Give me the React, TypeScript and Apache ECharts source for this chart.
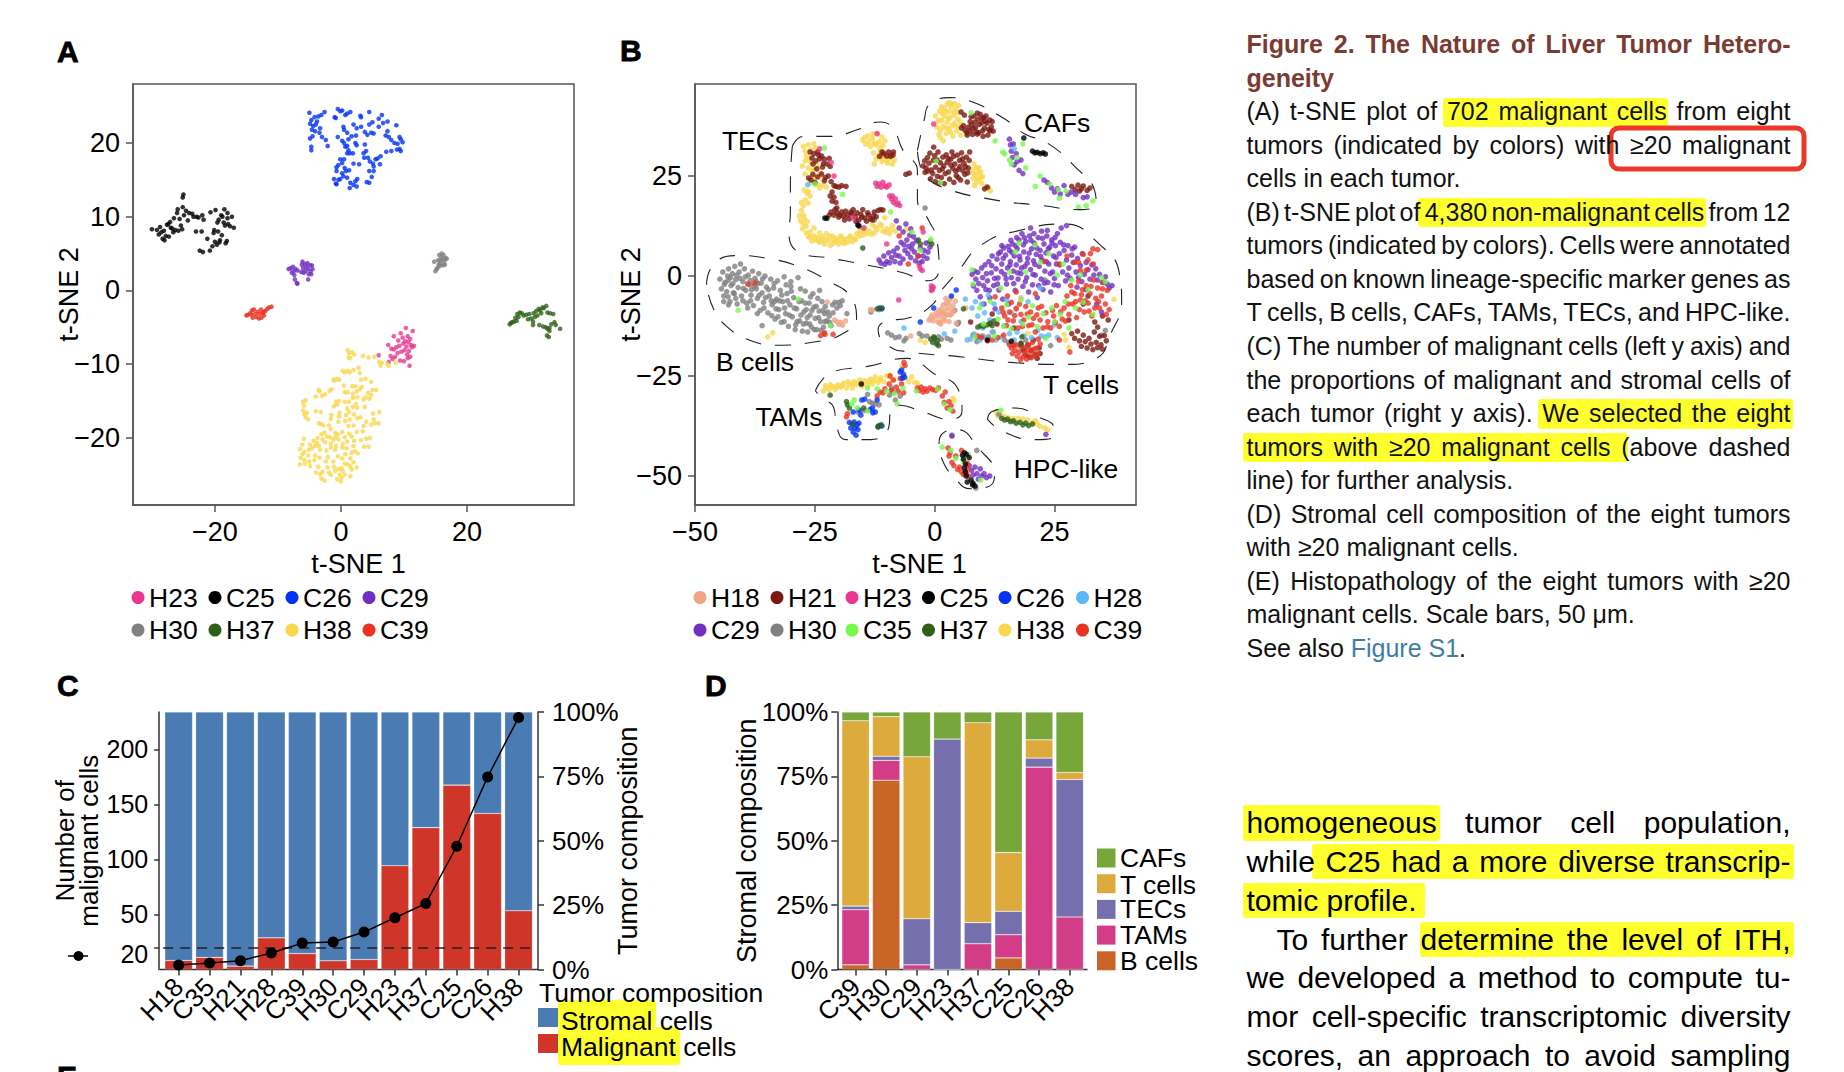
import React, { useEffect, useRef } from "react";
import * as echarts from "echarts";

const FONT = '"Liberation Sans", Arial, Helvetica, sans-serif';

const COLORS: Record<string, string> = {
  H18: "#F0A585", H21: "#7C1810", H23: "#E8388F", C25: "#000000", C26: "#0433F5", H28: "#5BB8F8",
  C29: "#7030C0", H30: "#808080", C35: "#75F94D", H37: "#2D6118", H38: "#F9D74F", C39: "#EA3323",
};

// Panel A, t-SNE coordinates
const aH23 = [6,-8.8,7.5,-7.4,7.6,-9.7,7.9,-8.9,8,-7.9,8.2,-9.3,8.4,-8,8.4,-6.2,8.6,-9,8.8,-7.7,9,-8.5,9.1,-6.8,9.3,-7.5,9.4,-9.5,9.5,-5.8,9.6,-8.3,9.8,-6.4,9.9,-7.2,10,-9.6,10.1,-8.1,10.2,-6.9,10.3,-5.1,10.4,-7.6,10.5,-8.7,10.6,-9.2,10.6,-6.2,10.7,-7,10.8,-8.2,10.9,-10.2,11,-9,11.1,-7.4,11.3,-7.7,11.4,-5.5,11.6,-7.5,11,-6.6];
const aC25 = [-30,8.3,-29.2,8.2,-28.9,7.6,-28.7,8.6,-28.5,7.9,-28.3,7,-28,6.8,-27.8,7.4,-27.6,8.9,-27.4,9,-27.3,7.3,-27.1,9.3,-27,8.5,-26.8,8.4,-26.5,9.8,-26.3,8.2,-26,10.5,-25.9,11,-25.6,9.7,-25.4,8.8,-25.2,8.3,-25.1,11.3,-25,13,-25.1,12.6,-24.9,10.2,-24.6,10.8,-24.3,9.5,-24.1,10.5,-23.6,10.4,-23.4,10,-23,8,-22.9,10,-22.6,9.9,-22.4,5.4,-22.1,8,-22,10.2,-21.9,5.2,-21.8,9.6,-21.2,7,-20.8,5.4,-20.7,10.6,-20.4,6,-20.1,8.2,-20,6.6,-19.9,10.9,-19.7,6.2,-19.5,8,-19.4,9.6,-19.3,6.5,-19,10.2,-18.9,7.5,-18.8,10,-18.6,9.2,-18.5,11,-18.3,6.4,-18,9.8,-17.9,9,-17.6,8.7,-17.3,10,-17,8.5,-18,10.5,-19.6,9.2,-18.4,8.8,-18.1,6.7,-19.2,6.8,-20.2,7.8,-28.1,8.1,-26.6,7.9,-25.8,8.1];
const aC26 = [-5,24.1,-4.9,22.6,-4.7,23.1,-4.6,21.8,-4.9,20.6,-4.5,20.9,-4.4,22.3,-4.2,23.5,-4.1,21.6,-4,22.5,-3.8,22.9,-3.6,23.6,-3.4,21.4,-3.3,22,-3.1,23.8,-3,20.8,-2.6,24.2,-2.4,20.4,-4.7,19.5,-4.7,19,-2.1,19.6,-1,23.5,-0.8,23.4,-0.5,24.6,-0.1,24.3,0.2,24.4,0.7,23.8,1,24,1.5,24.2,3.1,23.7,3.2,23.5,4.5,24.2,0.4,22.2,0.5,21.8,2.5,22,3.2,22.2,3.8,21.5,4.2,21.1,4.5,22.5,5,22.8,4.8,21.4,5.2,21.3,6,22.2,6,23.3,6.5,23.8,6.7,22.7,7.4,22.9,7.4,21.6,8.8,22.4,7.1,21,7.6,20.8,8,20.4,8.5,20,9,19.9,9.5,20.5,9.3,20.8,9.8,20.1,9.3,19.2,9.5,18.9,8.9,19.1,8,18.9,7.2,18.8,-0.5,20.8,0.2,20.3,0.5,20,0.7,19.5,1,19.6,1.2,20.5,1.7,20.9,2.4,21,2.3,20,2.5,19.7,1.2,19,1,18.6,1.4,18.6,1.9,18.6,3.8,19.8,4,18.9,3.6,18.6,3.7,18,4.3,18,4.6,17.5,5.1,17.2,5.5,17.8,5.8,17.9,6.3,18.2,6.2,17.1,5.2,16.8,5.2,16.2,-0.7,16.7,-0.4,17,-0.1,17.8,0.2,17.3,0.5,17.8,-0.7,16.2,0.2,15.9,0.6,16.6,0.8,16.2,1.3,16.3,2,17.2,2.9,17.1,-1.1,15.1,-0.7,14.4,-0.4,15,-0.1,15.1,0.4,15.5,1,15.3,-0.8,14.5,1.5,14.6,2.3,14.8,2.6,15.1,1.4,13.9,2,14.3,2.5,14.1,4.1,14.7,4.5,14.6,4.5,16.2,4.9,15.4,2,22.5,1,21.4];
const aC29 = [-8.3,2.9,-8,3,-7.8,2.4,-7.6,3.2,-7.5,2.6,-7.4,2.1,-7.3,1.5,-7.2,2.9,-6.9,2.7,-7,1,-6.9,0.9,-6.3,2.5,-6.2,3.5,-6.1,3.9,-6,3,-5.9,2.4,-5.7,3.6,-5.6,2.6,-5.5,3.2,-5.3,3.7,-5.2,1.5,-5.2,2.9,-5.1,2.2,-4.9,3.4,-4.8,2.6,-4.6,3.4,-4.5,2.9,-4.7,2.2];
const aH30 = [14.8,3.9,15,2.6,15.2,2.9,15.3,3,15.4,4.1,15.5,3.5,15.6,4.8,15.7,4,15.8,3.6,15.9,4.5,16,5,16.1,4.2,16.2,3.4,16.3,4.8,16.4,3.9,16.6,4.4,16.8,4.3,16.5,3.5,15.7,3.3];
const aH37 = [26.8,-4.6,27,-4.4,27.2,-4.3,27.5,-4.2,27.7,-3.7,27.9,-4.1,28,-3.2,28.2,-3.6,28.4,-3,28.7,-3.1,29,-3.4,29.4,-3.3,29.7,-3.9,29.9,-3.2,30.2,-3.8,30.5,-4.2,30.6,-3.1,30.8,-3.6,31,-2.8,31.2,-3.4,31.4,-2.5,31.6,-2.7,31.8,-3.1,32,-2.3,32.2,-2.4,32.6,-2.1,32.8,-3,30.5,-4.7,31.5,-4.7,32.1,-4.9,32.5,-5,32.8,-5.2,33.1,-5.5,32.7,-6.1,33.2,-3.1,33.7,-3.2,33.9,-4.3,34.1,-4.7,33.4,-4.6,33.1,-5.1,34.8,-5.2,33,-6.3];
const aH38 = [1.1,-8.1,1.3,-8.5,1.5,-9.2,1.8,-8.4,2.1,-8.7,1.2,-9.1,3.5,-8.9,4.4,-9.1,5.3,-9,6.1,-9.7,6.5,-9.8,6.3,-10.2,7.4,-10,7.6,-10.2,8.7,-9.8,0.3,-10.9,0.6,-11.1,1.1,-10.9,1.4,-11.1,2,-10.8,2.8,-10.5,3,-11.2,-1.2,-12.1,-1,-12.2,-0.6,-12,-0.3,-12.1,3.2,-12.1,3.9,-12,4.8,-12.4,0.5,-12.9,1.8,-13,2.3,-13,3.3,-13.1,-3.5,-13.5,-3.4,-13.7,-1.8,-13.6,-1.5,-13.4,0.6,-13.8,1.1,-13.8,1.9,-14,2.5,-13.7,3,-13.4,4.3,-13.9,5,-13.5,5.6,-13.5,-4,-14.4,-3,-14.3,-2.5,-14.1,1.9,-14.6,2.6,-14.5,3.9,-14.5,4.5,-14.7,4.8,-14.2,-6,-15.1,-5.6,-14.9,-0.8,-15.1,-0.3,-15,0.6,-15.1,1.3,-15.1,2.4,-15.4,3.6,-14.8,-5.9,-15.6,-1.1,-15.7,-0.6,-15.5,1,-16,1.9,-15.8,2.6,-15.9,3.8,-15.8,-6,-16.3,-5.8,-16.8,-5.4,-16.6,-4,-16.4,-3.2,-16.5,-1.5,-16.9,-0.2,-16.6,0.8,-16.9,1.3,-16.5,2.1,-16.8,3.1,-17.2,5.1,-16.7,6.1,-16.5,-5.6,-17.2,-5.2,-17.5,-1.6,-17.4,-0.3,-17.1,0.7,-17.7,1.4,-17.5,2.6,-17.3,4,-17.8,5.2,-17.5,-3.5,-18,-3.2,-18.1,-2.8,-18.3,-1.9,-18.3,-0.4,-17.8,1.2,-18.4,2,-18.3,3.6,-18.4,4.8,-18.2,5.4,-18,6,-18,-2.6,-19.3,-3.1,-19.5,-1.6,-18.8,-0.9,-19.3,-0.5,-19.5,0.2,-19.2,1.3,-19.4,2.5,-19.2,3.5,-19.1,-3.7,-20,-2.9,-20.2,-2.2,-19.8,-1.7,-19.9,-0.9,-19.9,-0.4,-20.2,0.6,-19.9,1.7,-19.8,3.2,-20.3,4,-20.1,-5.9,-20.1,-4.3,-20.4,-3.8,-20.7,-2.5,-20.6,-1.6,-20.8,-1.2,-20.3,0.3,-20.8,1,-20.5,2.1,-20.4,4.6,-20,-6.1,-20.9,-4.9,-20.9,-4.1,-21.1,-3.5,-21.1,-1.6,-21.3,-0.9,-21.6,0.2,-21.3,0.9,-21.4,2,-21.1,3.7,-21.2,4.4,-21.2,-6.5,-21.5,-5.8,-21.9,-5.1,-21.6,-4.6,-21.4,-3.3,-21.6,-2.3,-21.7,-0.8,-21.1,0.7,-22.2,1.7,-22,2.2,-21.8,2.7,-22.1,-6.1,-22.2,-5.2,-22.4,-4.1,-22.4,-3.4,-22.7,-2.1,-22.6,-0.5,-22.5,0.2,-22.8,1.5,-22.8,-6.4,-22.7,-5.8,-23,-5,-23.2,-4.2,-23,-2.4,-23.2,-1.2,-23.2,0.6,-23.5,2,-23.3,-6.5,-23.6,-5.7,-23.5,-4.9,-23.8,-3.6,-23.9,-2.1,-24,-1.1,-23.9,0.1,-24.1,1.5,-23.9,1.1,-23.6,-1.9,-24.7,-0.9,-24.5,-0.4,-24.2,0.3,-24.5,1.7,-24.3,2.5,-24,-4,-24.7,-3.3,-24.9,-2.9,-24.6,-1.6,-25,-0.2,-25,0.6,-25,1.5,-25.2,-3.1,-25.5,-2.6,-25.8,-0.6,-25.6,0,-25.9,0.1,-25.4];
const aC39 = [-15,-3.4,-14.8,-3.3,-14.4,-3.1,-14.2,-3.3,-14.1,-2.7,-14,-3.7,-13.8,-2.6,-13.6,-3.2,-13.4,-3.6,-13.2,-2.9,-13,-3.8,-12.9,-3.2,-12.7,-2.6,-12.6,-3.7,-12.4,-3.1,-12.2,-3.4,-12,-2.8,-11.7,-2.5,-11.4,-2.3,-11,-2.2,-12.3,-2.9];

const aOrder: [string, number[]][] = [["H23", aH23], ["C25", aC25], ["C26", aC26], ["C29", aC29], ["H30", aH30], ["H37", aH37], ["H38", aH38], ["C39", aC39]];

// Panel B
const bH18 = [-1.2,-11,-0.8,-10.5,-0.4,-11.2,0,-10.2,0.3,-9.2,0.6,-11.4,0.8,-10,1.1,-9.4,1.3,-12,1.4,-8.2,1.6,-10.8,1.8,-7.2,2,-9.1,2.1,-11.2,2.3,-5.6,2.4,-6.8,2.5,-8.2,2.7,-9.6,2.9,-7.1,3,-11.4,3.1,-6.1,3.3,-8.4,3.4,-5.3,3.6,-9.4,3.8,-7.4,4,-8.8,4.3,-6.3,4.5,-11.8,-20.9,-11,-20.4,-11.4,-20,-12.1,-19.6,-11.6,-19.2,-12.3,-18.6,-11.2,-13.4,-8.4,-13,-8.5,-22.4,-6.5,-5,-15,6.5,-8,17,-8,18,-5.5,0.9,-8.6,1.7,-9.5,2.2,-10,3.2,-9.8,-0.6,-9.8,1,-11.7];
const bH21 = [5.6,37,6,37.6,6.3,36.5,6.7,35.8,7,37.2,7.3,36.3,7.6,39.8,7.7,37.8,8,36.8,8.2,40,8.4,38.5,8.7,36.1,8.9,35.5,9,39.2,9.3,37.9,9.5,40.4,9.8,38.3,10,36.3,10.2,39.6,10.4,37,10.7,40,10.9,38.2,11.1,35.2,11.3,36.6,11.5,39,11.8,37.3,12,38.6,12.2,36.2,5.5,41,6.2,40.2,-2.4,27.5,-2.1,28.8,-1.8,27,-1.5,29.6,-1.2,28.2,-1,30.7,-0.7,26.5,-0.3,28.9,0,30.1,0.2,27.2,0.5,29,0.7,31,1,26.4,1.2,28.3,1.4,24.6,1.7,29.7,1.9,27.5,2.2,25.6,2.4,30.3,2.6,28.4,2.9,26,3.1,24.2,3.3,29.1,3.6,31,3.8,26.9,4,23.4,4.2,28,4.5,25.1,4.7,30.2,5,26.7,5.2,28.9,5.4,24,5.6,30.8,5.9,26.3,6.1,28.2,6.3,25.4,6.6,29.7,6.8,23.5,7,27,7.3,31,-0.2,32.2,0.6,24.9,10.4,21.8,11,22.2,28.6,22.4,29.3,21.6,29.9,22.7,30.6,21.8,31,22.5,31.8,21.4,32.4,22,30.2,21.2,-26,31,-25.6,29.5,-25.2,30.6,-24.8,28.8,-24.4,31,-24,29.3,-23.6,30,-23.2,28.1,-23,29.2,-22.4,28,-22,29.4,-21.8,27.4,-26.3,24.5,-25.8,24,-25.4,25.4,-25,23.4,-24.4,24.8,-23.6,25.5,-23,23.8,-22.2,25,-21.6,23.6,-21,22.6,-20.6,22.4,-20,22.2,-19.4,22.6,-18.5,22.4,-21.4,21,-21.8,20,-21,19.7,-21.4,18.7,-20.6,18.4,-20.4,17,-22,15.2,-21.6,16,-21,15.2,-20.4,15.8,-20,14.7,-19.4,16,-19,15,-18.6,16.2,-18.2,15.2,-17.8,14.3,-17.3,15.6,-17,16.6,-16.6,14.8,-16.2,15.8,-15.8,14,-15.4,15.4,-15,16.6,-14.6,14.5,-14.2,13.7,-13.8,15.3,-13.4,14.3,-13,14,-12.6,16,-12.2,14.8,-11.8,16.4,-11.3,16.6,-10.8,16.5,-11,31,-10.6,30.6,-10,30,-9.6,31,-9.2,29.9,-8.7,30.2,-8.6,31,-11.5,29.9,-6,25.4,-5.3,25.7,28.6,-14.4,29.2,-15.6,29.8,-13.8,30.2,-16.2,30.6,-17.6,31,-14.8,31.4,-16.4,31.8,-18,32.2,-15.6,32.6,-17,33,-18.4,33.3,-14,33.7,-16.6,34,-17.9,34.4,-15.1,34.7,-17.2,35,-18.3,35.4,-14.9,35.8,-16.2,33.4,-11.5,34,-12.8,36.2,-11,18,-16.8,18.6,-18.4,19,-19.8,19.4,-17.2,19.8,-20.3,20.2,-18.6,20.6,-16,21,-19.6,21.4,-20.6,21.8,-18,22,-19.4,16.5,-13,31,-7,32,-5,35,-10,28,-11,13,-12,12,-9.5,7.5,-11.5,
  -2,25.9,-1.4,26.2,-0.9,24.3,-0.4,25.6,0.1,23.6,0.9,23.2,1.6,26.8,2,23.1,2.8,29.4,3.4,27.7,3.9,29.9,4.4,26.2,4.9,24.6,5.3,27.4,5.8,29.3,6.4,27.3,6.9,25.8,7.2,28.9,6.8,35.2,7.9,35.4,8.5,37.2,9.2,35.8,10.1,34.9,10.6,38.7,11.6,36.3,7.4,38.6,8.9,40.7,9.9,39.4,-24.6,26.8,-23.4,27.2,-22.8,24.6,-19.8,15.2,-18.8,14,-17.5,16,-16.4,13.6,-15.2,14.7,-14,15.8,-12.8,15,-20.8,16.6,-25.4,28,-24.2,30.2];
const bH23 = [-12.3,23.2,-12,22.4,-11.6,23,-11.2,22.2,-10.8,23.4,-10.4,22.5,-10,22.2,-9.5,22.8,-9.4,20,-9,19.2,-8.8,20,-8.6,18.4,-8.2,19.3,-8,17.9,-7.6,18.2,-7.3,17.6,-0.7,-2.5,-0.5,-3.4,-0.3,-2.8,-0.7,-3.6,-3.2,2.6,-3,1.8,-2.6,1.4,-2.4,11,-24,31.8,-21,25,-21.6,28.4,-17,14.5,-12,35.6,-14.8,12,-10,8,-7.5,-6,-0.2,38];
const bC25 = [20.4,31.2,20.9,30.8,21.4,30.9,22,30.6,22.6,30.8,23.1,30.5,18.6,34.5,-22.9,14.5,-22.5,14.4,-16,12.7,-15.8,12.5,-15.3,-27,5.8,-44.8,6,-45.8,6.2,-44.2,6.4,-47,6.6,-44.6,6.4,-49,6.2,-48,6.6,-50,7.2,-45.4,6.8,-51.5,7.6,-51,7.9,-52.2,8.4,-52.5,8,-51.8,11,-16,16,-16.3];
const bC26 = [-17.8,-36.6,-17.5,-38,-17.2,-37,-17,-39,-16.8,-36.5,-16.6,-38,-16.4,-39.8,-16.2,-37.2,-16,-38.4,-15.8,-36.8,-17,-34,-15.8,-33.5,-15.2,-31,-14.6,-30.8,-13.5,-33.4,-12.9,-34.2,-12.4,-34,-12,-31,-11.8,-37.6,-11,-37.5,-7.2,-24,-6.9,-23.5,-6.5,-24.6,-6.8,-25.6,-6.3,-25.3,-15.4,-34.8,-13,-33,3.5,-5,4.5,-3.5,-11,-8.2,-11.5,-8,-3,-11.5,-0.2,-8];
const bH28 = [6.4,-5.8,6.8,-16,7.5,-15.8,7.8,-8,8.2,-14.5,8.5,-6.4,9,-10,9.4,-16.1,9.8,-7,10,-13,10.4,-9.2,10.8,-15.4,11.2,-4.8,11.5,-11,12,-14,12.4,-7,12.8,-16,13.4,-9,14,-15.2,14.5,-12.4,15,-6,15.6,-14.4,16,-9.2,16.6,-16,17.2,-14,18,-11.4,18.6,-15,19.5,-6.4,20.2,-15.4,21.5,-13.6,22.2,-15,23,-15.2,23.8,-14.8,25,-12.2,25.6,-15.4,-26.5,22.8,-6.4,-13,2,-14.5,4.2,-13.8,22,-3,16.6,31.8];
const bC29 = [7.8,0.4,8.1,-2.5,8.3,1.2,8.6,-0.8,8.8,-3.6,9,0.9,9.2,-1.9,9.5,-5.2,9.8,2,10,-0.4,10.3,-7,10.5,2.8,10.7,-3.4,11,-1.2,11.3,3.6,11.5,-5.5,11.8,0.8,12,5,12.3,-2.4,12.6,-8.2,12.8,1.8,13,4.2,13.2,-0.5,13.4,-3.5,13.7,6,14,3,14.2,-5.8,14.4,7,14.6,0.4,14.8,5.2,15,-2,15.2,2,15.4,-7,15.6,6.4,15.8,3.6,16,-0.4,16.2,8,16.4,1.2,16.6,5,16.8,-3.6,17,2.8,17.2,6.8,17.4,-0.8,17.6,9,17.8,4,18,0.6,18.2,10.6,18.4,-2.6,18.6,6,18.8,2.4,19,8.6,19.2,-0.4,19.4,4.4,19.6,-4,19.8,10,20,1.6,20.2,6.8,20.4,-2.2,20.6,3.8,20.8,8.2,21,0.2,21.2,5.4,21.4,-5.4,21.6,9.6,21.8,2.4,22,6.4,22.2,-0.8,22.4,4,22.6,-3.4,22.8,8,23,1.2,23.2,5.8,23.4,10,23.6,-1.6,23.8,3,24,7.2,24.2,-4,24.4,9,24.6,1,24.8,5,25,-0.6,25.2,7.6,25.4,3,25.6,10.6,25.8,-2.4,26,5.6,26.2,8.4,26.4,12,26.7,1,27,6.4,27.3,-1.2,27.5,4,27.8,7.6,28,2,28.3,-0.6,28.6,5.2,28.9,3.4,29.2,7.2,29.5,1,29.8,4.4,30,-0.4,30.4,2.6,30.8,5.6,31.2,0.4,31.6,3.4,32,1.6,32.4,-0.8,32.8,2.8,33.2,0.2,33.6,1.8,34,-1,34.4,0.4,35,-1.6,35.6,-0.2,36,-2,36.4,-3,37,-2.4,33.8,-7,34.8,-9,-11.6,4,-11.2,3.2,-10.6,5,-10,3.6,-9.6,5.8,-9,4.6,-8.6,6.2,-8.3,3.6,-7.8,7,-7.4,5,-7,8.4,-6.6,4.2,-6.2,6.4,-5.8,9,-5.4,7.4,-5,4.6,-4.6,8,-4.2,6,-3.8,8.8,-3.4,5,-3,7,-2.6,3.6,-2.2,6.4,-1.8,8.2,-1.4,6,-1,7.2,-8,13.8,-7.4,12,-6.6,11,-6,13,-5.2,10.2,-5,11.8,-4.4,9.8,15.6,34.2,15.8,32.8,16,31.2,16.2,29.6,16.4,33,16.6,27.8,17,30.6,17.2,28.6,17.6,26.4,18,29,18.4,25.6,22.8,24,23.5,23.4,24.4,22,25,21,25.6,21.8,26.2,20.5,27,22.6,27.8,20.4,28.5,21,29.4,20.4,31,19.6,31.8,19.8,7.2,-47.4,7.7,-48.6,8,-49.8,8.4,-47.8,8.8,-49.4,9.1,-50.8,9.5,-48.2,9.8,-50,10.3,-49.4,10.8,-50.4,11.5,-50,23.2,-39.6,3.6,-40,14,7.6,20,12,27.5,12.6,
  13.3,5.6,13.9,1.1,14.3,4.4,14.9,-0.7,15.3,7.4,15.7,2.7,16.1,5.9,16.5,-1.9,16.9,7.6,17.3,0.8,17.7,4.9,18.1,2,18.5,7.8,18.9,-1.4,19.3,3.2,19.7,5.7,20.1,8.9,20.5,0.4,20.9,2.9,21.3,7,21.7,-2.4,22.1,4.9,22.5,9.4,22.9,-1.8,23.3,3.6,23.7,6.8,24.1,0.6,24.5,8.2,24.9,-2.2,25.3,4.6,10.2,-2.4,10.8,0.6,11.4,-3.6,11.9,2.6,12.5,-0.6,13.1,-2,15.9,8.9,17.1,9.6,18.7,9.6,20.7,10.6,22.3,11.2,23.5,11.4,25.1,9.6,26.1,2.8,26.9,7.8,27.7,0.2,28.7,6.8,29.7,-2.8,30.7,-1.4,31.5,-3.4,-10.4,2.9,-9.4,3.3,-8.1,5.2,-7.2,3.2,-6.4,7.8,-5.6,5.6,-4.8,6.8,-4,3.8,-3.2,3.2,-2.4,5,-1.6,4.4];
const bH30 = [-44.8,-0.8,-44.5,-3.2,-44.2,1,-44,-5,-43.7,-1.6,-43.4,-3.9,-43.2,0,-43,1.8,-42.7,-6.4,-42.5,-2.4,-42.2,0.6,-42,-4.2,-41.7,2.4,-41.5,-0.9,-41.2,-7,-41,-2.9,-40.8,1,-40.5,3,-40.3,-5,-40,-1.4,-39.7,1.8,-39.4,-3.6,-39.2,-6.8,-38.9,0.2,-38.6,-2.2,-38.3,-4.8,-38,1.2,-37.8,-7.4,-37.5,-0.6,-37.2,-3.2,-37,-5.6,-36.7,0.6,-36.4,-8.6,-36.2,-1.8,-36,-4.2,-35.7,-6.6,-35.4,0,-35.1,-2.8,-34.8,-9.2,-34.5,-5,-34.2,-0.8,-33.9,-7.2,-33.6,-3,-33.3,-10.8,-33,-5.8,-32.8,-1.2,-32.5,-8.4,-32.2,-3.6,-32,-11.6,-31.7,-6.4,-31.4,-0.2,-31.1,-9.4,-30.8,-4.4,-30.5,-12.6,-30.2,-7.2,-30,-1.4,-29.7,-10.2,-29.4,-5.4,-29.1,-13.4,-28.8,-8.2,-28.5,-0.4,-28.2,-11.2,-28,-3.2,-27.8,-6.2,-27.6,-13.8,-27.3,-9,-27,-3.8,-26.8,-11.8,-26.5,-14,-26.2,-6.8,-26,-9.8,-25.7,-12.8,-25.4,-4.4,-25.2,-7.8,-24.9,-10.6,-24.6,-13.4,-24.4,-5.6,-24.1,-8.8,-23.8,-11.4,-23.5,-6.4,-23.2,-12.8,-23,-9.4,-22.8,-7.6,-22.5,-11.2,-22,-10,-21.6,-12.4,-21.3,-7.2,-20.8,-6.6,-20.4,-8,-20,-6.6,-19.7,-7.4,-19.3,-6.2,-36,-12.4,-30,-2.6,-42.6,-0.4,-41.8,-4.4,-39,-8,-37.2,-1.4,-33.4,-6.4,-31,-2.2,-26.8,-8.4,-25.9,-5.2,-44,-6.4,-43,-7.2,-24,-3.6,-9.8,-14.2,-9,-14.8,-8.2,-15.4,-7.4,-15.2,-6.4,-16.2,-6,-15.6,-3.2,-14.4,-2.6,-15,-1.6,-15,0.8,-15.2,1.4,-15.8,2.6,-15.6,3.4,-16,4.8,-12,5,-11.6,8,-14.8,9,-15.4,10,-15,11.2,-15.2,12.2,-14,14.6,-16,15.4,-16.6,16.6,-17.2,17.8,-17.6,18.4,-18.6,19,-16,24.2,-17.4,34.8,-14.8,35.6,-13.6,-16,-34,-15.4,-33.8,-14.6,-33.6,-13.6,-31.4,-13,-31.8,-12.4,-32,-11.6,-32.2,-14,-29.6,-9.4,-29.8,-8.6,-29,-7.2,-30,-9,-28,8.8,-16.4,8.6,-53,13.4,-34.6,8.8,-43.6,3.6,-39.8,-11.6,-8.4,-13.3,-9,23,-1,-18.3,-9.4,4.2,-8.6,-2,17,-12.6,14,-8.2,-31,
  -43.9,-2.1,-43.1,-1.1,-42.1,-1.9,-41.3,0.2,-40.6,-0.6,-39.9,-3.1,-39.5,-0.2,-38.5,-1.1,-38.2,-3.4,-37.6,-2.6,-36.9,-1.9,-36.6,-4.8,-35.9,-0.7,-35.3,-5.4,-34.7,-3.4,-34.1,-6.2,-33.5,-1.9,-33.1,-8.2,-32.4,-6.2,-31.9,-4.8,-31.3,-8,-30.7,-6.2,-30.3,-9.8,-29.9,-3.8,-29.3,-8,-28.7,-11.4,-28.3,-6.4,-27.9,-9.8,-27.4,-12,-27,-6.8,-26.6,-10.4,-26.1,-12,-25.6,-8.6,-25.1,-13.4,-24.7,-7.6,-24.2,-10.4,-23.7,-13.6,-23.3,-8.6,-22.9,-11.4,-22.3,-9,-21.9,-11.6,-21.2,-9.2,-34,-9.9,-32.7,-10.2,-35.6,-8,-37,-9.4,-38.4,-6.2,-40,-6.2,-41.5,-5.6,-43.1,-5.2,-31.4,-11.4,-29,-12.2];
const bC35 = [-9.2,16,-4.7,11,-0.8,9.2,-3,6.4,7.8,1.6,8.4,-15.2,9.4,-8,10.2,-12,11.6,-6.4,12.4,-15,13.2,-10.8,13.8,-3,14.4,-12.6,15,-7.2,15.6,1,16,-13.2,16.8,6,17.6,8.2,18,-6,18.4,-12,19,1,19.6,-10.2,20.4,-7.4,21,7.8,21.4,-12.6,22,3.4,22.6,-9.4,23.2,-15.6,23.8,5.6,24.4,-8,25,-11.4,25.6,0.2,26.2,-9.6,26.8,3,27.2,-6.4,28,-13,28.6,-1,29.4,-8,30.4,0.2,31,-6.6,32,-3.4,33,-9.6,34.8,-0.4,35.6,-1.4,8,-2,-14,-28,-16.2,-33,-17.3,-32,-16.8,-31,-12,-28.2,-10,-28.8,-8.4,-29.4,-7.8,-32,-6.6,-28,-3.8,-28.8,0.6,-28.3,2,-32,3.2,-33.4,14.6,30.5,15.6,29,16,28,17.2,29.6,18.4,33,19,27,21,22.4,22,25,24,23,25.8,21.6,26,19.5,27.4,21.2,30,17.2,31.6,17.6,33,18.8,7.6,40.8,0.3,28.7,1.2,23.4,14.2,31,12.6,33.8,1.6,-42.8,3.4,-43.6,4.4,-45.6,6,-46.4,7,-44.6,9.6,-51,-28.4,-5.8,-41,-8.6,-21.8,-12.4,-14,-33.8,13.8,-33.6,-23,32,-25,23,-19.2,20.4];
const bH37 = [-0.8,-15.8,-0.4,-16.6,0,-15.6,0.4,-17,0.6,-16.2,-0.2,-15.2,0.8,-17.4,6,-8.2,9,-12.8,9.6,-12.4,10.2,-12.6,11,-12.2,11.6,-11.8,12,-12.4,12.4,-11.2,18.2,-15.2,14,-35.6,14.6,-36,15.2,-35.8,15.8,-36.4,16.4,-36.2,17,-36.8,17.8,-36.6,18.4,-37.2,19,-36.8,19.6,-37.4,20.4,-37,-18.4,-31.4,-18.2,-32.2,-17.8,-33,-11.6,-37.4,-11.2,-37.2,-11.8,-37.8,-11,-8,-12,-8.2,-1,8.6,-0.6,8,-15,7,-3,8,-17,-37,-21.8,-29.8,-3.4,9,-14.8,-33,18,-17];
const bH38 = [0.2,40,0.5,37.2,0.7,38.8,1,41.2,1.2,36.4,1.5,39,1.7,37.4,2,42,2.1,40,2.4,35.6,2.6,38.4,2.8,41,3,36.8,3.2,39.6,3.4,42.2,3.6,37.6,3.8,35,4,40.2,4.1,38.2,4.4,41.8,4.6,36.2,4.8,39.2,5,42.6,5.2,37.4,5.4,35.2,1.2,34.6,1.8,33.8,2.6,43,3.6,43,7.8,26.6,8,24.4,8.2,28,8.4,25.2,8.7,27,8.8,23.4,9,25.8,9.3,24.2,9.6,26,9.8,23.2,10,24.8,8.3,22.6,10.7,22.4,11.2,21.9,11.6,21.3,-15,34,-14.4,33,-14,35,-13.4,32.4,-13,34.4,-12.6,33.2,-12,35.6,-11.6,33.6,-11,34.8,-10.8,32.6,-10.4,33.8,-12.8,30.8,-12.2,29.2,-11.4,31,-11,28.6,-10.4,29.6,-9.8,28.2,-9.4,29.4,-8.8,28,-8.4,29,-12.6,28,-27.4,32.4,-27,31.2,-26.4,32.8,-25.8,31.6,-25.2,33,-24.8,32,-27.6,27.5,-27,28.8,-26.4,27,-25.8,28.4,-25.2,26.6,-24.6,27.8,-24,26,-23.4,24.2,-26.2,23,-25.6,25,-24.4,22.8,-24,22,-23.4,22.6,-22.6,22.2,-26.6,20.6,-26,20,-27,19,-26.4,18.2,-27.4,17.6,-27.8,16.4,-28.2,15,-27.4,15.2,-28,13.8,-27.4,13,-27.6,11.8,-26.8,12.4,-26.8,10.8,-26,11,-26,9.6,-25.2,12,-25.2,10,-24.6,8.9,-24,10.8,-24,8.4,-23.4,9.8,-23,8,-22.6,10.6,-22.2,8.8,-21.8,7.6,-21.4,10,-21,8.2,-20.6,9.4,-20,8,-19.6,10,-19.2,8.6,-18.6,9.2,-18.2,8.4,-17.6,10,-17.2,8.6,-16.8,9.4,-16.2,10.6,-15.6,11.2,-15,10.2,-14.6,12,-14.2,10.6,-13.6,11.2,-13,12.8,-12.6,10.8,-12,11.6,-11.4,13,-10.8,11.2,-10.4,14.6,-10,11.8,-9.4,10.6,-8.8,12.6,-8.2,11.2,-6,11.6,-23.2,-28.8,-22.6,-28,-22,-28.4,-21.4,-27.6,-20.8,-28.4,-20.2,-27.2,-19.6,-27.8,-19,-26.8,-18.4,-28,-17.8,-27,-17.2,-28,-16.8,-26.4,-16.2,-27.2,-15.6,-26,-15.2,-27.6,-14.6,-26.2,-14,-27.2,-13.4,-25.8,-13,-27,-12.4,-25.2,-11.8,-26.6,-11.2,-25.4,-10.6,-26.4,-10,-25,-9.4,-24.8,-8.8,-26,-6.8,-22.4,-6,-25.6,-5.4,-26.4,-4.8,-25.2,-4.2,-26.6,-3.6,-26.8,3.8,-30.6,4,-31.2,12.8,-34,13.6,-34.8,14.4,-35,15.4,-35.4,16.4,-35.6,17.4,-35.6,18.4,-35.8,19.4,-36,20.4,-36.6,21,-36.2,21.4,-37,22,-37.6,23,-38,23.6,-38.4,13.2,-35,27,-14.6,27.3,-16,28,-17.8,37.4,-5.8,-34.8,-15.2,-33.8,-14.2,-3,-16,-2,-16.6,19.4,-14.4,
  0.9,38.7,1.6,40.6,2.3,37,2.9,39.3,3.3,35.9,3.9,41,4.4,37.4,4.9,40.8,5.3,38.6,0.9,35.4,1.4,42.3,2.2,41.2,3,43.4,4.2,43.1,8.1,25.6,8.7,24.2,9.2,27.1,9.6,24.8,-14.6,34.6,-13.7,33.6,-12.9,35.5,-12.2,32.8,-11.4,32,-10.7,31,-11.8,30,-10.9,29.4,-10,28.9,-9,30.6,-26.8,30,-26.2,29.3,-27,25.5,-25.6,26.4,-24.9,24.6,-27.2,21.5,-26.4,21.2,-27.8,18.4,-27.2,14.4,-26.6,13.6,-26.3,9.9,-25.6,8.7,-25,9.4,-24.4,9.6,-23.6,8.9,-22.9,9.1,-22,9.9,-21.2,9,-20.3,8.8,-19.4,9.4,-18.9,8.1,-17.9,9.5,-16.6,9,-15.8,10,-15.1,11.3,-14.3,11.6,-13.2,10.4,-12.3,12.2,-11.1,12.6,-10.2,10.9,-9.1,11.6,-22.8,-27.4,-21.8,-27.2,-20.5,-27.7,-19.3,-27.3,-18.1,-26.4,-17,-26.9,-15.9,-26.6,-14.8,-26.9,-13.7,-26.4,-12.7,-26.1,-11.5,-26];
const bC39 = [-22.9,-14.6,-23.8,-14.9,-23,-14.2,-21.2,-14.6,-39,-2,-37.6,-1.8,-9.5,-27,-9,-28.6,-8.6,-26,-8,-27.8,-7.6,-28.8,-7.2,-25.6,-6.9,-27,-6.5,-29.2,-6.4,-21.6,-6.2,-22.4,-10.8,-29.2,-10.4,-28.2,-3.6,-28,-3.2,-28.6,-2.8,-27.8,-2.4,-29,-2,-28.2,-1.6,-28.8,-1,-28,-0.4,-28.4,0.2,-28.6,0.8,-28,1.6,-30,2,-31.6,2.2,-29,2.6,-33,3,-31.4,3.4,-32.4,3.8,-33.8,-18.4,-35.2,-18.2,-34.4,-12,-30,-11.4,-29,2.8,-43,3,-45,3.2,-44.2,3.6,-46.6,4,-47.4,4.4,-45,4.8,-48.4,5.2,-47.8,5.6,-49,6,-49.6,6.6,-49.2,7,-50,5.6,-43.6,6.8,-46.8,7,-48,9,-15,9.8,-15.4,11,-16.2,12,-16,13.2,-15.4,14.4,-14.8,15.2,-5,15.6,-17.2,16,-18,16.4,-17.4,16.8,-18.6,17.2,-20,17.6,-19,18,-17.4,18.4,-20.2,18.8,-19.2,19.2,-20.8,19.6,-17.4,20,-19,20.4,-16.6,20.8,-20,21.2,-18,21.6,-15.8,14,-8,14.6,-10,15,-12.4,15.6,-9,16,-6.6,16.4,-11.2,17,-8.2,17.4,-13,18,-9.6,18.6,-11,19,-7.6,19.6,-12.4,20,-9,20.6,-10.6,21,-14,21.6,-8,22,-11,22.6,-13,23.2,-9.2,23.6,-11.4,24.2,-13,24.8,-10,25.4,-7.4,26,-12.6,26.6,-10.8,27,-8,27.6,-5,28,-9.6,28.4,-2.4,28.8,-7,29.2,-4.4,29.6,-10.4,30,-1.4,30.4,-6,30.8,-3.4,31.2,-9,31.6,-2.4,32,-6.8,32.4,-4.4,32.8,-10,33.2,-1,33.6,-5.6,34,-3,34.4,-8,34.8,-5,35.2,-1.6,35.6,-7,36,-3.6,36.4,-8.4,31,5.4,32,4,33,6.8,34,6.6,26,3,27.6,5,29.2,3.4,30.4,1.4,22.8,3.6,17,-4,21,-4.4,11.6,-12,12.6,-5.2,-9.3,-25,-7.4,10,-2.6,12,-3.5,5,-5.5,3,28.2,-19,26,-16,
  14.3,-9.1,15.3,-11,16.7,-9.9,17.7,-7,18.3,-12.6,19.3,-9.5,20.3,-12.2,21.3,-9.7,22.3,-7.6,23.5,-12.7,24.6,-8.6,25.2,-11.6,26.3,-8.9,27.3,-11.3,27.9,-7,28.6,-4,29.4,-6.4,30.2,-8.4,30.6,-4.7,31.4,-6.2,32.2,-8.8,32.6,-2.6,33.4,-8,34.2,-6.4,35,-3.2,35.8,-9.6,33.1,3,31.6,1.4,30,3.4,32.5,5.6,16.2,-19.4,17,-17.2,17.9,-20.9,18.6,-17.9,19.4,-18.4,20.2,-20.4,20.7,-18.3,21.4,-19.4,22,-17];

const bOrder: [string, number[]][] = [["H38", bH38], ["H30", bH30], ["H21", bH21], ["C29", bC29], ["H18", bH18], ["H28", bH28], ["C39", bC39], ["C26", bC26], ["H23", bH23], ["H37", bH37], ["C35", bC35], ["C25", bC25]];

const hullTECs = [-29.7,32.4,-30.1,23.2,-30.1,16.1,-30.4,11,-28.2,5.9,-21.5,4.4,-14.8,2.9,-6.6,0.8,-1.3,-1.2,0.9,1.8,0.5,9,-1.3,14,-3.6,19.1,-3.6,26.3,-6.6,31.4,-8.8,37,-11.4,38.5,-16.3,36.5,-21.5,34.9,-27.5,34.9,-29.7,32.4];
const hullCAFs = [-3.6,31.4,-2.1,39.5,-1.3,42.6,3.1,44.6,7.6,43.6,14.3,39.5,18.8,35.5,23.3,33.4,29.3,27.3,33.4,21.2,33.7,18.1,30,16.6,22.5,17.6,12.1,19.1,1.6,22.2,-2.1,25.3,-3.2,28.3,-3.6,31.4];
const hullBcells = [-47.6,-2.2,-46.1,2.9,-41.6,5.1,-34.9,4.4,-28.2,2.3,-21.5,-1.7,-17.8,-4.8,-16.3,-10.4,-19.3,-14.5,-25.2,-16.5,-32.7,-17.3,-38.7,-16,-43.1,-12.9,-46.1,-8.3,-47.6,-2.2];
const hullTcells = [1.6,-3.3,4.6,0.8,9.9,7.9,18.1,11.5,27,13,34.4,7.9,38.5,0.8,39,-6.3,36.7,-14.5,33.7,-20.6,27,-22.1,15.8,-21.6,4.6,-20.1,-5.1,-19,-9.6,-17.5,-11.8,-13.4,-10.3,-11.4,-5.1,-10.4,-0.6,-7.3,1.6,-3.3];
const hullTAMs = [-24.9,-28.7,-21.5,-24.1,-14,-22.6,-5.8,-20.6,0.1,-24.6,4.6,-27.7,5.7,-33.8,3.1,-35.8,-2.8,-33.8,-7.3,-32.3,-9.2,-33.8,-9.6,-37.9,-13.3,-40.9,-18.5,-40.9,-20.4,-37.9,-21.1,-32.8,-23.7,-30.3,-24.9,-28.7];
const hullHPC1 = [11,-35.8,12.1,-33.8,16.6,-33,21.8,-35.3,24.8,-37.9,24.8,-39.9,21.1,-40.9,14.3,-38.9,11,-35.8];
const hullHPC2 = [0.9,-42,1.6,-39.4,4.6,-38.4,9.1,-43,12.5,-49.6,11.3,-52.6,7.6,-53.2,3.9,-50.1,1.6,-46,0.9,-42];
const hulls = [hullTECs, hullCAFs, hullBcells, hullTcells, hullTAMs, hullHPC1, hullHPC2];

// Panel C
const cCats = ["H18","C35","H21","H28","C39","H30","C29","H23","H37","C25","C26","H38"];
const cMalignantPct = [3.5,4.7,1.3,12.3,6.2,3.4,3.9,40.3,55.1,71.6,60.6,22.8];
const cStromalPct = [96.5,95.3,98.7,87.7,93.8,96.6,96.1,59.7,44.9,28.4,39.4,77.2];
const cCounts = [4,6,8,15,24,25,34,47,60,112,175,229];
const cCountTicks = [20,50,100,150,200];
const pctTicks = [0,25,50,75,100];

// Panel D
const dCats = ["C39","H30","C29","H23","H37","C25","C26","H38"];
const dBcells = [1.8,73.5,0,0,0,4.5,0,0];
const dTAMs = [21.4,7.7,1.8,0,10,9,78.6,20.4];
const dTECs = [1.4,1.6,17.9,89.5,8.2,9.1,3.5,53.4];
const dTcells = [72,15.4,62.9,0,77.6,22.8,7.1,2.7];
const dCAFs = [3.4,1.8,17.4,10.5,4.2,54.6,10.8,23.5];

const aLegend = [["H23","C25","C26","C29"],["H30","H37","H38","C39"]];
const bLegend = [["H18","H21","H23","C25","C26","H28"],["C29","H30","C35","H37","H38","C39"]];
const dLegend: [string, string][] = [["CAFs","#77A63A"],["T cells","#DCAB3C"],["TECs","#7570AD"],["TAMs","#D33D87"],["B cells","#C96527"]];

const captionLines: [string, boolean][] = [
  ["Figure 2. The Nature of Liver Tumor Hetero-", true],
  ["geneity", false],
  ["(A) t-SNE plot of 702 malignant cells from eight", true],
  ["tumors (indicated by colors) with ≥20 malignant", true],
  ["cells in each tumor.", false],
  ["(B) t-SNE plot of 4,380 non-malignant cells from 12", true],
  ["tumors (indicated by colors). Cells were annotated", true],
  ["based on known lineage-specific marker genes as", true],
  ["T cells, B cells, CAFs, TAMs, TECs, and HPC-like.", true],
  ["(C) The number of malignant cells (left y axis) and", true],
  ["the proportions of malignant and stromal cells of", true],
  ["each tumor (right y axis). We selected the eight", true],
  ["tumors with ≥20 malignant cells (above dashed", true],
  ["line) for further analysis.", false],
  ["(D) Stromal cell composition of the eight tumors", true],
  ["with ≥20 malignant cells.", false],
  ["(E) Histopathology of the eight tumors with ≥20", true],
  ["malignant cells. Scale bars, 50 μm.", false],
  ["See also Figure S1.", false],
];
const bodyLines: [string, boolean, number][] = [
  ["homogeneous tumor cell population,", true, 0],
  ["while C25 had a more diverse transcrip-", true, 0],
  ["tomic profile.", false, 0],
  ["To further determine the level of ITH,", true, 30],
  ["we developed a method to compute tu-", true, 0],
  ["mor cell-specific transcriptomic diversity", true, 0],
  ["scores, an approach to avoid sampling", true, 0],
];
const YELLOW = "#FFFF2E";
const highlights = [
  [1443,98,225,29],[1418,198,288,29],[1538,399,255,30],[1243,433,385,29],
  [1243,805,197,36],[1312,844,482,35],[1243,883,182,35],[1420,922,374,35],
  [558,1000,98,27],[558,1027,122,38],
];

const pts = (a: number[]) => {
  const r: number[][] = [];
  for (let i = 0; i + 1 < a.length; i += 2) r.push([a[i], a[i + 1]]);
  return r;
};
const minus = (v: number) => String(v).replace("-", "−");
const AXC = "#555555";

function text(t: string, x: number, y: number, size: number, extra: any = {}) {
  const { fill = "#000", weight = "normal", align = "left", rotation = 0, stroke, lineWidth } = extra;
  return {
    type: "text", x, y, rotation, silent: true,
    style: { text: t, font: `${weight} ${size}px ${FONT}`, fill, align, verticalAlign: "middle", ...(stroke ? { stroke, lineWidth } : {}) },
  };
}

function justified(line: string, y: number, left: number, right: number, size: number, just: boolean, weight: string, fill: string, blue?: string[]) {
  const ctx = document.createElement("canvas").getContext("2d")!;
  ctx.font = `${weight} ${size}px "Liberation Sans"`;
  const words = line.split(" ");
  const widths = words.map((w) => ctx.measureText(w).width);
  const total = widths.reduce((a, b) => a + b, 0);
  const gap = just && words.length > 1 ? (right - left - total) / (words.length - 1) : ctx.measureText(" ").width;
  let x = left;
  const out: any[] = [];
  words.forEach((w, i) => {
    if (blue && w === "S1.") {
      out.push(text("S1", x, y, size, { fill: "#3D7EA6", weight }));
      out.push(text(".", x + ctx.measureText("S1").width, y, size, { fill, weight }));
    } else {
      out.push(text(w, x, y, size, { fill: blue && blue.includes(w) ? "#3D7EA6" : fill, weight }));
    }
    x += widths[i] + gap;
  });
  return out;
}

function buildGraphics() {
  const g: any[] = [];
  highlights.forEach(([x, y, w, h]) => g.push({ type: "rect", shape: { x, y, width: w, height: h, r: 3 }, style: { fill: YELLOW }, silent: true }));
  g.push({ type: "rect", shape: { x: 1611, y: 128, width: 193, height: 41, r: 8 }, style: { fill: "none", stroke: "#E8392A", lineWidth: 5 }, silent: true });

  const letter = { weight: "bold", stroke: "#000", lineWidth: 0.8 };
  g.push(text("A", 57, 51, 30, letter));
  g.push(text("B", 620, 50, 30, letter));
  g.push(text("C", 57, 685, 30, letter));
  g.push(text("D", 705, 685, 30, letter));
  g.push(text("E", 57, 1076, 30, letter));

  // legends of A and B
  const ay = [597.5, 630];
  const ax = [138, 215, 292, 369];
  aLegend.forEach((row, r) => row.forEach((n, c) => {
    g.push({ type: "circle", shape: { cx: ax[c], cy: ay[r], r: 6.5 }, style: { fill: COLORS[n] }, silent: true });
    g.push(text(n, ax[c] + 11, ay[r], 26.5));
  }));
  const bx = [700, 777, 852, 928.5, 1005, 1082.5];
  bLegend.forEach((row, r) => row.forEach((n, c) => {
    g.push({ type: "circle", shape: { cx: bx[c], cy: ay[r], r: 6.5 }, style: { fill: COLORS[n] }, silent: true });
    g.push(text(n, bx[c] + 11, ay[r], 26.5));
  }));

  // cluster names in B
  ([["TECs",755,141],["CAFs",1057,123],["B cells",755,362],["T cells",1081,385],["TAMs",789,417],["HPC-like",1066,469]] as [string,number,number][])
    .forEach(([t, x, y]) => g.push(text(t, x, y, 26.5, { align: "center" })));

  // legend of C
  g.push(text("Tumor composition", 539, 993, 26.5));
  g.push({ type: "rect", shape: { x: 538, y: 1008, width: 20, height: 19 }, style: { fill: "#4A7BB3" }, silent: true });
  g.push({ type: "rect", shape: { x: 538, y: 1034, width: 20, height: 19 }, style: { fill: "#CF3528" }, silent: true });
  g.push(text("Stromal cells", 561, 1020.5, 26.5));
  g.push(text("Malignant cells", 561, 1046.5, 26.5));
  g.push({ type: "line", shape: { x1: 68, y1: 956, x2: 88, y2: 956 }, style: { stroke: "#000", lineWidth: 1.5 }, silent: true });
  g.push({ type: "circle", shape: { cx: 78.5, cy: 956, r: 5 }, style: { fill: "#000" }, silent: true });
  g.push({ type: "line", shape: { x1: 159.5, y1: 969.5, x2: 538.5, y2: 969.5 }, style: { stroke: "#333", lineWidth: 1.5 }, silent: true });

  // legend of D
  dLegend.forEach(([n, c], i) => {
    const cy = 858 + i * 25.7;
    g.push({ type: "rect", shape: { x: 1097, y: cy - 9.5, width: 18.5, height: 19 }, style: { fill: c }, silent: true });
    g.push(text(n, 1120, cy + (i === 1 ? 1 : 0), 26.5));
  });
  g.push({ type: "line", shape: { x1: 837, y1: 969.5, x2: 1087.5, y2: 969.5 }, style: { stroke: "#333", lineWidth: 1.5 }, silent: true });

  // caption
  captionLines.forEach(([l, j], i) => {
    const heading = i < 2;
    const y = 44 + i * 33.55;
    g.push(...justified(l, y, 1246.5, 1790.5, 25, j, heading ? "bold" : "normal", heading ? "#7A3B32" : "#111111", i === 18 ? ["Figure", "S1."] : undefined));
  });
  bodyLines.forEach(([l, j, ind], i) => {
    g.push(...justified(l, 822.5 + i * 38.85, 1246.5 + ind, 1790.5, 30, j, "normal", "#000000"));
  });
  return g;
}

function buildOption() {
  const tick = { show: true, length: 7, lineStyle: { color: AXC, width: 1.5 } };
  const line = { show: true, onZero: false, lineStyle: { color: AXC, width: 1.5 } };
  const lab = { color: "#000", fontSize: 27, fontFamily: FONT, formatter: minus };
  const nameStyle = { color: "#000", fontSize: 27, fontFamily: FONT };
  const darkLine = { show: true, onZero: false, lineStyle: { color: "#333", width: 1.5 } };
  const darkTick = { show: true, length: 6, alignWithLabel: true, lineStyle: { color: "#333", width: 1.5 } };
  const pctFmt = (v: number) => `${v}%`;
  const countFmt = (v: number) => (v === 20 ? `{low|${v}}` : `${v}`);

  const valX = (gridIndex: number, min: number, max: number, ticks: number[], shift: number) => ({
    type: "value", gridIndex, min, max, splitLine: { show: false },
    axisLine: line, axisTick: { ...tick, customValues: ticks },
    axisLabel: { ...lab, margin: 13, customValues: ticks },
    name: "t-SNE 1", nameLocation: "middle", nameGap: 45, nameMoveOverlap: false, nameTextStyle: { ...nameStyle, padding: [0, 0, 0, shift] },
  });
  const valY = (gridIndex: number, min: number, max: number, ticks: number[]) => ({
    type: "value", gridIndex, min, max, splitLine: { show: false },
    axisLine: line, axisTick: { ...tick, customValues: ticks },
    axisLabel: { ...lab, margin: 13, customValues: ticks },
    name: "t-SNE 2", nameLocation: "middle", nameGap: 51, nameMoveOverlap: false, nameRotate: 90, nameTextStyle: nameStyle,
  });

  const series: any[] = [];
  aOrder.forEach(([n, a]) => series.push({
    type: "scatter", name: `A ${n}`, xAxisIndex: 0, yAxisIndex: 0, data: pts(a), symbolSize: 4.6,
    itemStyle: { color: COLORS[n] }, silent: true,
  }));
  hulls.forEach((h, i) => series.push({
    type: "line", name: `hull ${i}`, xAxisIndex: 1, yAxisIndex: 1, data: pts(h), smooth: 0.5, showSymbol: false,
    lineStyle: { color: "#222", width: 1.1, type: [16, 14] }, silent: true,
  }));
  bOrder.forEach(([n, a]) => series.push({
    type: "scatter", name: `B ${n}`, xAxisIndex: 1, yAxisIndex: 1, data: pts(a), symbolSize: 5.6,
    itemStyle: { color: COLORS[n] }, silent: true,
  }));
  const barBorder = { borderColor: "rgba(255,255,255,0.35)", borderWidth: 0.6 };
  series.push({ type: "bar", name: "Malignant cells", xAxisIndex: 2, yAxisIndex: 3, stack: "c", data: cMalignantPct, barWidth: 27.8, itemStyle: { color: "#CF3528", ...barBorder }, silent: true });
  series.push({ type: "bar", name: "Stromal cells", xAxisIndex: 2, yAxisIndex: 3, stack: "c", data: cStromalPct, barWidth: 27.8, itemStyle: { color: "#4A7BB3", ...barBorder }, silent: true });
  series.push({
    type: "line", name: "Number of malignant cells", xAxisIndex: 2, yAxisIndex: 2, data: cCounts, z: 5,
    symbol: "circle", symbolSize: 11, itemStyle: { color: "#000" }, lineStyle: { color: "#000", width: 1.5 }, silent: true,
    markLine: {
      silent: true, symbol: "none", label: { show: false },
      lineStyle: { color: "#222", type: [10, 7], width: 1.5 },
      data: [{ yAxis: 20 }],
    },
  });
  ([["B cells", dBcells, "#C96527"], ["TAMs", dTAMs, "#D33D87"], ["TECs", dTECs, "#7570AD"], ["T cells", dTcells, "#DCAB3C"], ["CAFs", dCAFs, "#77A63A"]] as [string, number[], string][])
    .forEach(([n, d, c]) => series.push({
      type: "bar", name: n, xAxisIndex: 3, yAxisIndex: 4, stack: "d", data: d, barWidth: 27.5,
      itemStyle: { color: c, ...barBorder }, silent: true,
    }));

  return {
    animation: false,
    backgroundColor: "#ffffff",
    textStyle: { fontFamily: FONT },
    grid: [
      { left: 133, top: 84, width: 441, height: 421, show: true, borderColor: AXC, borderWidth: 1.5, backgroundColor: "transparent" },
      { left: 695, top: 84, width: 441, height: 421, show: true, borderColor: AXC, borderWidth: 1.5, backgroundColor: "transparent" },
      { left: 163.2, top: 712, width: 370.8, height: 257.5 },
      { left: 840.3, top: 712, width: 244.7, height: 257.5 },
    ],
    xAxis: [
      valX(0, -33, 37, [-20, 0, 20], 10),
      valX(1, -50, 42, [-50, -25, 0, 25], 8),
      {
        type: "category", gridIndex: 2, data: cCats, axisLine: { show: false }, axisTick: darkTick,
        axisLabel: { color: "#000", fontSize: 26, fontFamily: FONT, rotate: 45, margin: 13, interval: 0 },
      },
      {
        type: "category", gridIndex: 3, data: dCats, axisLine: { show: false }, axisTick: darkTick,
        axisLabel: { color: "#000", fontSize: 26, fontFamily: FONT, rotate: 45, margin: 13, interval: 0 },
      },
    ],
    yAxis: [
      valY(0, -29.1, 28, [-20, -10, 0, 10, 20]),
      valY(1, -57.25, 48, [-50, -25, 0, 25]),
      {
        type: "value", gridIndex: 2, min: 0, max: 234, position: "left", offset: 4, splitLine: { show: false },
        axisLine: darkLine, axisTick: { show: true, length: 5, customValues: cCountTicks, lineStyle: { color: "#333", width: 1.5 } },
        axisLabel: {
          color: "#000", fontSize: 25, fontFamily: FONT, margin: 11, customValues: cCountTicks, formatter: countFmt,
          rich: { low: { fontSize: 25, fontFamily: FONT, color: "#000", padding: [14, 0, 0, 0] } },
        },
        name: "Number of\nmalignant cells", nameLocation: "middle", nameGap: 58, nameMoveOverlap: false, nameRotate: 90,
        nameTextStyle: { ...nameStyle, fontSize: 26, lineHeight: 24 },
      },
      {
        type: "value", gridIndex: 2, min: 0, max: 100, position: "right", offset: 4, splitLine: { show: false },
        axisLine: darkLine, axisTick: { show: true, length: 6, customValues: pctTicks, lineStyle: { color: "#333", width: 1.5 } },
        axisLabel: { color: "#000", fontSize: 26, fontFamily: FONT, margin: 14, formatter: pctFmt, customValues: pctTicks },
        name: "Tumor composition", nameLocation: "middle", nameGap: 76, nameMoveOverlap: false, nameRotate: 90, nameTextStyle: nameStyle,
      },
      {
        type: "value", gridIndex: 3, min: 0, max: 100, position: "left", offset: 3, splitLine: { show: false },
        axisLine: darkLine, axisTick: { show: true, length: 6, customValues: pctTicks, lineStyle: { color: "#333", width: 1.5 } },
        axisLabel: { color: "#000", fontSize: 26, fontFamily: FONT, margin: 9, formatter: pctFmt, customValues: pctTicks },
        name: "Stromal composition", nameLocation: "middle", nameGap: 77, nameMoveOverlap: false, nameRotate: 90, nameTextStyle: nameStyle,
      },
    ],
    series,
    graphic: { elements: buildGraphics() },
  };
}

export default function App() {
  const ref = useRef<HTMLDivElement>(null);
  useEffect(() => {
    document.body.style.margin = "0";
    const chart = echarts.init(ref.current!, undefined, { renderer: "svg" });
    chart.setOption(buildOption() as any);
    return () => chart.dispose();
  }, []);
  return <div ref={ref} style={{ width: 1844, height: 1072, overflow: "hidden" }} />;
}
